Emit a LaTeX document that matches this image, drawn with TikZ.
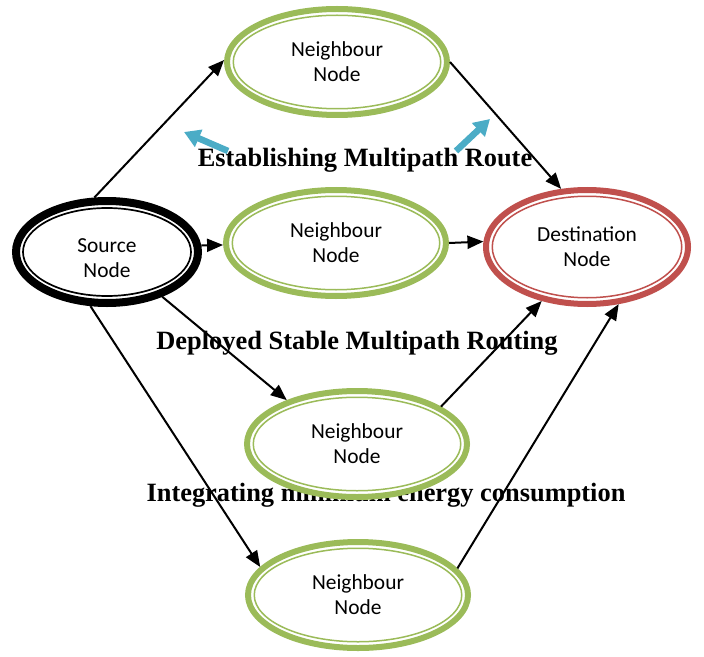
\documentclass[tikz,border=0pt]{standalone}
\usepackage{fontspec}
\setmainfont{Carlito}
\newfontfamily\capfont{Liberation Serif}
\usepackage{xcolor}
\usepackage{tikz}
\usetikzlibrary{shapes.geometric,arrows.meta,positioning}

\definecolor{nbrgreen}{HTML}{9BBB59}
\definecolor{dstred}{HTML}{C0504D}
\definecolor{hintblue}{HTML}{4BACC6}

\begin{document}
\begin{tikzpicture}[
			x=1bp, y=1bp,
			node distance=21bp,
			ring/.style={ellipse, fill=white, align=center, inner sep=0pt, font=\fontsize{21.5}{25}\selectfont},
			nbr/.style={ring, draw=nbrgreen, line width=6bp, minimum width=220bp, minimum height=106bp,
				path picture={\draw[nbrgreen, line width=1.5bp] (path picture bounding box.center) ellipse [x radius=103.75bp, y radius=46.75bp];}},
			dst/.style={ring, draw=dstred, line width=6bp, minimum width=202bp, minimum height=114bp,
				path picture={\draw[dstred, line width=1.5bp] (path picture bounding box.center) ellipse [x radius=94.75bp, y radius=50.75bp];}},
			srcbox/.style={ring, draw=black, line width=8bp, minimum width=182bp, minimum height=102bp,
				path picture={\draw[black, line width=1.7bp] (path picture bounding box.center) ellipse [x radius=84bp, y radius=44bp];}},
			caption/.style={font=\capfont\bfseries\fontsize{26.5}{30}\selectfont, inner sep=0pt},
			arr/.style={-{Triangle[length=16bp, width=13bp]}, line width=2bp},
			hint/.style={-{Triangle[length=16bp, width=18bp]}, line width=6.5bp, draw=hintblue}
			]
			\useasboundingbox (0,0) rectangle (704,-657);
			% phase captions, under the nodes
			\node[caption, anchor=base] (route) at (365,-166) {Establishing Multipath Route};
			\node[caption, anchor=base] (stable) at (357,-349) {Deployed Stable Multipath Routing};
			\node[caption, anchor=base] (energy) at (386,-501) {Integrating minimum energy consumption};
			% nodes
			\node[srcbox] (src) at (107,-252) {\rule{0pt}{27bp}Source\\Node};
			\node[nbr, right=21bp of src, yshift=9bp] (n2) {Neighbour\\Node};
			\node[dst, right=34bp of n2, yshift=-4bp] (dest) {Destination\\Node};
			\node[nbr, above=69bp of n2, xshift=1bp] (n1) {Neighbour\\Node};
			\node[nbr, below=89bp of n2, xshift=21bp] (n3) {Neighbour\\Node};
			\node[nbr, below=39bp of n3, xshift=1bp] (n4) {Neighbour\\Node};
			% blue hints
			\coordinate (hintL) at (228,-151);
			\coordinate (hintLtip) at (184,-132);
			\coordinate (hintR) at (456,-151);
			\coordinate (hintRtip) at (490,-119);
			\draw[hint] (hintL) -- (hintLtip);
			\draw[hint] (hintR) -- (hintRtip);
			% paths
			\draw[arr] (src.103) -- (n1.179);
			\draw[arr] (n1.east) -- (dest.114);
			\draw[arr] (src.4) -- (n2.181);
			\draw[arr] (n2.east) -- (dest.177);
			\draw[arr] (src.-39) -- (n3.148);
			\draw[arr] (src.-107) -- (n4.164);
			\draw[arr] (n3.24) -- (dest.-130);
			\draw[arr] (n4.15) -- (dest.-61);
		\end{tikzpicture}
\end{document}
